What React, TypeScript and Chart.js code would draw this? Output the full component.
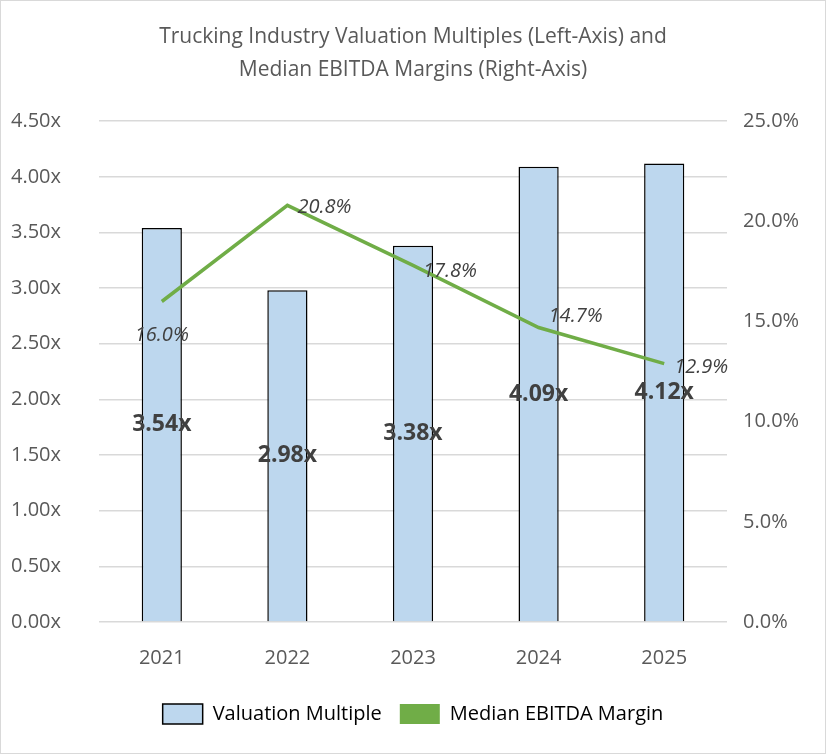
import React, { useEffect, useRef } from "react";
import { Chart, registerables } from "chart.js";
Chart.register(...registerables);

const categories = ["2021", "2022", "2023", "2024", "2025"];
const multiples = [3.54, 2.98, 3.38, 4.09, 4.12];
const margins = [16.0, 20.8, 17.8, 14.7, 12.9];
const FONT = "'Open Sans', 'Noto Sans', sans-serif";

const labelPlugin = {
  id: "labels",
  afterDatasetsDraw(chart: any) {
    const ctx = chart.ctx;
    ctx.save();
    const bars = chart.getDatasetMeta(0).data;
    ctx.font = `bold 23px ${FONT}`;
    ctx.fillStyle = "#404040";
    ctx.textAlign = "center";
    ctx.textBaseline = "middle";
    bars.forEach((b: any, i: number) => {
      ctx.fillText(multiples[i].toFixed(2) + "x", b.x, (b.y + b.base) / 2);
    });
    const pts = chart.getDatasetMeta(1).data;
    ctx.font = `italic 20px ${FONT}`;
    ctx.textAlign = "left";
    pts.forEach((p: any, i: number) => {
      const t = margins[i].toFixed(1) + "%";
      if (i === 0) {
        ctx.textAlign = "center";
        ctx.fillText(t, p.x, p.y + 34);
        ctx.textAlign = "left";
      } else {
        const dy = [0, 2, 6, -11, 4][i];
        ctx.fillText(t, p.x + 10, p.y + dy);
      }
    });
    ctx.restore();
  },
  afterDraw(chart: any) {
    const ctx = chart.ctx;
    ctx.save();
    ctx.strokeStyle = "#d9d9d9";
    ctx.lineWidth = 1;
    ctx.strokeRect(0.5, 0.5, chart.width - 1, chart.height - 1);
    ctx.restore();
  },
};

export default function App() {
  const ref = useRef<HTMLCanvasElement>(null);
  useEffect(() => {
    document.body.style.margin = "0";
    const chart = new Chart(ref.current!, {
      type: "bar",
      data: {
        labels: categories,
        datasets: [
          {
            type: "bar",
            label: "Valuation Multiple",
            data: multiples,
            backgroundColor: "#BDD7EE",
            borderColor: "#000000",
            borderWidth: 1.5,
            barPercentage: 0.32,
            categoryPercentage: 1,
            yAxisID: "y",
            order: 2,
          },
          {
            type: "line",
            label: "Median EBITDA Margin",
            data: margins,
            borderColor: "#70AD47",
            backgroundColor: "#70AD47",
            borderWidth: 3.5,
            pointRadius: 0,
            yAxisID: "y1",
            order: 1,
          } as any,
        ],
      },
      options: {
        animation: false,
        responsive: false,
        layout: { padding: { top: 0, bottom: 20 } },
        plugins: {
          title: {
            display: true,
            text: ["Trucking Industry Valuation Multiples (Left-Axis) and", "Median EBITDA Margins (Right-Axis)"],
            color: "#595959",
            font: { family: FONT, size: 21, weight: "normal", lineHeight: 1.6 },
            padding: { top: 20, bottom: 34 },
          },
          legend: {
            position: "bottom",
            labels: {
              color: "#595959",
              font: { family: FONT, size: 20 },
              boxWidth: 40,
              boxHeight: 20,
              padding: 18,
              generateLabels: () => [
                { text: "Valuation Multiple", fillStyle: "#BDD7EE", strokeStyle: "#000", lineWidth: 1.5, datasetIndex: 0 },
                { text: "Median EBITDA Margin", fillStyle: "#70AD47", strokeStyle: "#70AD47", lineWidth: 0, datasetIndex: 1 },
              ],
            },
          },
          tooltip: { enabled: false },
        },
        scales: {
          x: {
            grid: { display: false },
            border: { display: false },
            ticks: { color: "#595959", font: { family: FONT, size: 20 }, padding: 16 },
          },
          y: {
            min: 0,
            max: 4.5,
            ticks: { stepSize: 0.5, color: "#595959", font: { family: FONT, size: 20 }, padding: 38, callback: (v: any) => Number(v).toFixed(2) + "x" },
            grid: { color: "#d9d9d9", lineWidth: 1.5, drawTicks: false },
            border: { display: false },
            afterFit: (s: any) => { s.width = 99; },
          },
          y1: {
            position: "right",
            min: 0,
            max: 25,
            ticks: { stepSize: 5, color: "#595959", font: { family: FONT, size: 20 }, padding: 8, callback: (v: any) => Number(v).toFixed(1) + "%" },
            grid: { display: false },
            border: { display: false },
            afterFit: (s: any) => { s.width = 99; },
          },
        },
      },
      plugins: [labelPlugin],
    });
    return () => chart.destroy();
  }, []);
  return <canvas ref={ref} width={826} height={754} style={{ display: "block" }} />;
}
